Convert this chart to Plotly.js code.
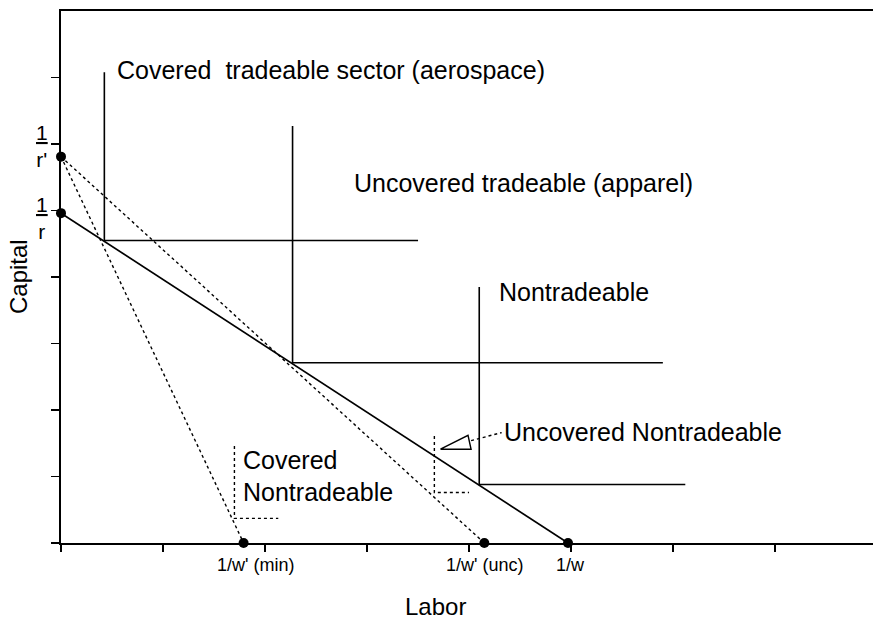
<!DOCTYPE html>
<html>
<head>
<meta charset="utf-8">
<script src="https://cdn.plot.ly/plotly-3.0.1.min.js"></script>
<style>html,body{margin:0;padding:0;background:#fff;}#chart{width:873px;height:620px;}</style>
</head>
<body>
<div id="chart"></div>
<script>
// ---- data (Labor on x, Capital on y) ----
const budgetL = [0, 4.97];          // solid budget line: 1/r  -> 1/w
const budgetK = [4.96, 0];
const minLineL = [0, 1.79];         // dotted: 1/r' -> 1/w'(min)
const minLineK = [5.81, 0];
const uncLineL = [0, 4.15];         // dotted: 1/r' -> 1/w'(unc)
const uncLineK = [5.81, 0];

const aeroL = [0.425, 0.425, 3.50]; // covered tradeable isoquant
const aeroK = [7.08, 4.55, 4.55];
const apparelL = [2.27, 2.27, 5.90];// uncovered tradeable isoquant
const apparelK = [6.27, 2.71, 2.71];
const nontradL = [4.10, 4.10, 6.12];// nontradeable isoquant
const nontradK = [3.85, 0.88, 0.88];
const covNTL = [1.70, 1.70, 2.13];  // covered nontradeable (dotted)
const covNTK = [1.46, 0.37, 0.37];
const uncNTL = [3.66, 3.66, 4.00];  // uncovered nontradeable (dotted)
const uncNTK = [1.61, 0.76, 0.76];
const arrowL = [3.72, 3.99, 4.02, 3.72];
const arrowK = [1.41, 1.62, 1.41, 1.41];
const leaderL = [4.02, 4.32];
const leaderK = [1.54, 1.66];

const dotL = [0, 0, 1.79, 4.15, 4.97];
const dotK = [5.81, 4.96, 0, 0, 0];

const xTickVals = [1.79, 4.15, 4.97];
const xTickText = ["1/w'\u00a0(min)", "1/w'\u00a0(unc)", "1/w"];
const yTickText = ["<u>1</u><br>r'", "<u>1</u><br>r"];
const sectorLabels = ["Covered\u00a0\u00a0tradeable sector (aerospace)", "Uncovered tradeable (apparel)",
                      "Nontradeable", "Uncovered Nontradeable", "Covered", "Nontradeable"];
const xTitle = "Labor";
const yTitle = "Capital";

// ---- traces ----
const K = '#000';
function line(x, y, dash, w) {
  return {x: x, y: y, type: 'scatter', mode: 'lines', cliponaxis: false,
          line: {color: K, width: w || 1.6, dash: dash || 'solid'}, hoverinfo: 'skip'};
}
const traces = [
  line(budgetL, budgetK, 'solid', 1.7),
  line(minLineL, minLineK, 'dot', 1.4),
  line(uncLineL, uncLineK, 'dot', 1.4),
  line(aeroL, aeroK, 'solid', 1.6),
  line(apparelL, apparelK, 'solid', 1.6),
  line(nontradL, nontradK, 'solid', 1.6),
  line(covNTL, covNTK, 'dot', 1.4),
  line(uncNTL, uncNTK, 'dot', 1.4),
  line(arrowL, arrowK, 'solid', 1.4),
  line(leaderL, leaderK, 'dot', 1.4),
  {x: dotL, y: dotK, type: 'scatter', mode: 'markers', cliponaxis: false,
   marker: {color: K, size: 10}, hoverinfo: 'skip'}
];

const F = 'Liberation Sans, Arial, Helvetica, sans-serif';
const ann = [];
function txt(text, x, y, size, opts) {
  ann.push(Object.assign({text: text, x: x, y: y, xref: 'x', yref: 'y', showarrow: false,
    xanchor: 'left', yanchor: 'middle', font: {family: F, size: size, color: K}}, opts || {}));
}
// sector labels
txt(sectorLabels[0], 0.53, 7.11, 25);
txt(sectorLabels[1], 2.85, 5.41, 25);
txt(sectorLabels[2], 4.27, 3.77, 25);
txt(sectorLabels[3], 4.32, 1.67, 25);
txt(sectorLabels[4], 1.76, 1.25, 25);
txt(sectorLabels[5], 1.76, 0.77, 25);
// x "tick" labels at the intercept points
const xShift = [12, 0, 3];
xTickVals.forEach((v, i) => txt(xTickText[i], v, 0, 18, {xanchor: 'center', yshift: -22, xshift: xShift[i]}));
// y fraction labels 1/r' and 1/r (placed just left of the axis)
const yShift = [11, -5];
yTickText.forEach((t, i) => txt(t, 0, dotK[i], 21,
  {xref: 'paper', xanchor: 'center', yshift: yShift[i], xshift: -19}));
// axis titles
ann.push({text: xTitle, xref: 'x', yref: 'paper', x: 3.67, y: 0, yshift: -63, showarrow: false,
          xanchor: 'center', yanchor: 'middle', font: {family: F, size: 24, color: K}});
ann.push({text: yTitle, xref: 'paper', yref: 'paper', x: 0, y: 0.5, xshift: -43, showarrow: false,
          textangle: -90, xanchor: 'center', yanchor: 'middle', font: {family: F, size: 24, color: K}});

const layout = {
  width: 873, height: 620,
  margin: {l: 61, r: 0, t: 11, b: 77},
  paper_bgcolor: '#fff', plot_bgcolor: '#fff',
  showlegend: false,
  xaxis: {range: [0, 7.96], showgrid: false, zeroline: false, showline: true, linecolor: K, linewidth: 2,
          mirror: true, ticks: 'outside', tickvals: [0,1,2,3,4,5,6,7], ticklen: 7, tickwidth: 1.2,
          tickcolor: K, showticklabels: false, fixedrange: true},
  yaxis: {range: [0, 8], showgrid: false, zeroline: false, showline: true, linecolor: K, linewidth: 2,
          ticks: 'outside', tickvals: [0,1,2,3,4,5,6,7], ticklen: 8, tickwidth: 1.2,
          tickcolor: K, showticklabels: false, fixedrange: true},
  annotations: ann
};

Plotly.newPlot('chart', traces, layout, {staticPlot: true, displayModeBar: false});
</script>
</body>
</html>
